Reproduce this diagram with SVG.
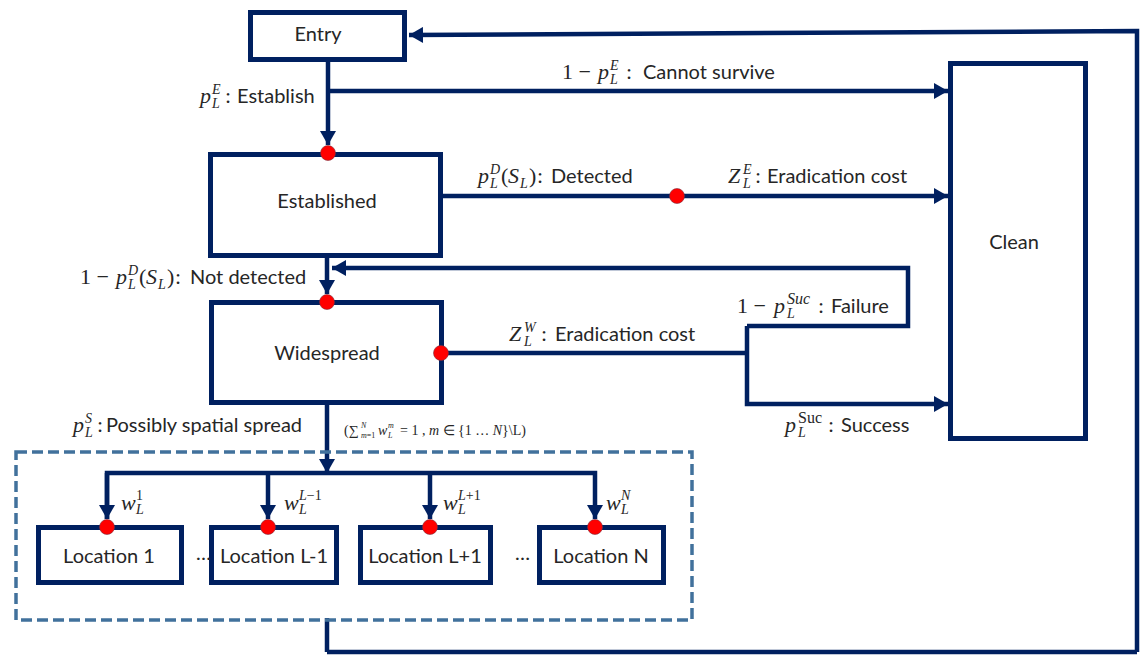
<svg xmlns="http://www.w3.org/2000/svg" width="1141" height="656" viewBox="0 0 1141 656">
<defs>
<marker id="arr" markerUnits="userSpaceOnUse" markerWidth="16" markerHeight="16" viewBox="0 0 14 16" refX="14" refY="8" orient="auto">
<path d="M0,0 L14,8 L0,16 z" fill="#002060"/>
</marker>
<style>
.box{fill:#fff;stroke:#002060;stroke-width:5}
.ln{fill:none;stroke:#002060;stroke-width:4.5}
.dash{fill:none;stroke:#41719C;stroke-width:3.5;stroke-dasharray:11 5}
.dot{fill:#FF0000;stroke:#7a3040;stroke-width:0.6}
.nt{font-family:Lato,"Liberation Sans",sans-serif;font-size:20px;fill:#262626;text-anchor:middle}
.t{font-family:Lato,"Liberation Sans",sans-serif;font-size:20px;fill:#262626}
.m{font-family:"Liberation Serif",serif;font-style:italic;font-size:22px;fill:#262626}
.mu{font-family:"Liberation Serif",serif;font-size:22px;fill:#262626}
.s{font-family:"Liberation Serif",serif;font-style:italic;font-size:14px;fill:#262626}
.su{font-family:"Liberation Serif",serif;font-size:14px;fill:#262626}
.big{font-size:16px}
.f{font-family:"Liberation Serif",serif;font-size:14px;fill:#262626}
.fx{font-family:"Liberation Serif",serif;font-size:8px;fill:#262626}
.fi{font-style:italic}
</style>
</defs>

<g id="connectors">
<path class="ln" d="M1137,652 L1137,31 L409,35" marker-end="url(#arr)"/>
<path class="ln" d="M327,652 L1137,652"/>
<path class="ln" d="M327,618 L327,652"/>
<path class="ln" d="M328,60 L328,145" marker-end="url(#arr)"/>
<path class="ln" d="M328,91 L948,91" marker-end="url(#arr)"/>
<path class="ln" d="M441,196 L948,196" marker-end="url(#arr)"/>
<path class="ln" d="M327,256 L327,294" marker-end="url(#arr)"/>
<path class="ln" d="M441,353 L747,353"/>
<path class="ln" d="M747,326 L747,404 L948,404" marker-end="url(#arr)"/>
<path class="ln" d="M747,326 L908,326 L908,268 L332,268" marker-end="url(#arr)"/>
<path class="ln" d="M327,403 L327,473" marker-end="url(#arr)"/>
<path class="ln" d="M107,519 L107,473 L595,473 L595,519" marker-end="url(#arr)"/>
<path class="ln" d="M107,473 L107,519" marker-end="url(#arr)"/>
<path class="ln" d="M268,473 L268,519" marker-end="url(#arr)"/>
<path class="ln" d="M430,473 L430,519" marker-end="url(#arr)"/>
<rect class="dash" x="16" y="452" width="676" height="168"/>
</g>

<g id="entry">
<rect class="box" x="250.5" y="12.5" width="154" height="47"/>
<text class="nt" x="318" y="41">Entry</text>
</g>

<g id="established">
<rect class="box" x="210.5" y="154.5" width="230" height="101"/>
<text class="nt" x="327" y="208">Established</text>
</g>

<g id="widespread">
<rect class="box" x="211.5" y="302.5" width="230" height="100"/>
<text class="nt" x="327" y="360">Widespread</text>
</g>

<g id="clean">
<rect class="box" x="950.5" y="63.5" width="135" height="375"/>
<text class="nt" x="1014" y="249">Clean</text>
</g>

<g id="location1">
<rect class="box" x="38.5" y="527.5" width="143" height="55"/>
<text class="nt" x="109" y="563">Location 1</text>
</g>
<g id="locationLm1">
<rect class="box" x="211.5" y="527.5" width="125" height="55"/>
<text class="nt" x="274" y="563">Location L-1</text>
</g>
<g id="locationLp1">
<rect class="box" x="360.5" y="527.5" width="130" height="55"/>
<text class="nt" x="425" y="563">Location L+1</text>
</g>
<g id="locationN">
<rect class="box" x="539.5" y="527.5" width="124" height="55"/>
<text class="nt" x="601" y="563">Location N</text>
</g>

<g id="dots">
<circle class="dot" cx="328" cy="153" r="7.5"/>
<circle class="dot" cx="677" cy="196" r="7.5"/>
<circle class="dot" cx="327" cy="302" r="7.5"/>
<circle class="dot" cx="441" cy="353" r="7.5"/>
<circle class="dot" cx="107" cy="527" r="7.5"/>
<circle class="dot" cx="268" cy="527" r="7.5"/>
<circle class="dot" cx="430" cy="527" r="7.5"/>
<circle class="dot" cx="595" cy="527" r="7.5"/>
</g>

<g id="labels">
<!-- p_L^E: Establish -->
<text class="m" x="200" y="103">p</text>
<text class="s" x="212" y="94">E</text>
<text class="s" x="212" y="108">L</text>
<text class="mu" x="225" y="103">:</text>
<text class="t" x="237" y="103">Establish</text>

<!-- 1 - p_L^E: Cannot survive -->
<text class="mu" x="562" y="79">1 −</text>
<text class="m" x="598" y="79">p</text>
<text class="s" x="610" y="70">E</text>
<text class="s" x="610" y="84">L</text>
<text class="mu" x="626" y="79">:</text>
<text class="t" x="643" y="79">Cannot survive</text>

<!-- p_L^D(S_L): Detected -->
<text class="m" x="478" y="183">p</text>
<text class="s" x="490" y="174">D</text>
<text class="s" x="490" y="188">L</text>
<text class="mu" x="501" y="183">(</text>
<text class="m" x="508" y="183">S</text>
<text class="s" x="520" y="188">L</text>
<text class="mu" x="529" y="183">)</text>
<text class="mu" x="537" y="183">:</text>
<text class="t" x="551" y="183">Detected</text>

<!-- Z_L^E: Eradication cost -->
<text class="m" x="728" y="183">Z</text>
<text class="s" x="743" y="174">E</text>
<text class="s" x="743" y="188">L</text>
<text class="mu" x="755" y="183">:</text>
<text class="t" x="767" y="183">Eradication cost</text>

<!-- 1 - p_L^D(S_L): Not detected -->
<text class="mu" x="80" y="284">1 −</text>
<text class="m" x="116" y="284">p</text>
<text class="s" x="128" y="275">D</text>
<text class="s" x="128" y="289">L</text>
<text class="mu" x="139" y="284">(</text>
<text class="m" x="146" y="284">S</text>
<text class="s" x="158" y="289">L</text>
<text class="mu" x="167" y="284">)</text>
<text class="mu" x="175" y="284">:</text>
<text class="t" x="190" y="284">Not detected</text>

<!-- Z_L^W: Eradication cost -->
<text class="m" x="509" y="341">Z</text>
<text class="s" x="524" y="332">W</text>
<text class="s" x="524" y="346">L</text>
<text class="mu" x="541" y="341">:</text>
<text class="t" x="555" y="341">Eradication cost</text>

<!-- 1 - p_L^Suc: Failure -->
<text class="mu" x="737" y="313">1 −</text>
<text class="m" x="774" y="313">p</text>
<text class="s big" x="787" y="304">Suc</text>
<text class="s" x="787" y="318">L</text>
<text class="mu" x="818" y="313">:</text>
<text class="t" x="831" y="313">Failure</text>

<!-- p_L^Suc: Success -->
<text class="m" x="785" y="432">p</text>
<text class="su big" x="798" y="423">Suc</text>
<text class="s" x="798" y="437">L</text>
<text class="mu" x="828" y="432">:</text>
<text class="t" x="841" y="432">Success</text>

<!-- p_L^S: Possibly spatial spread -->
<text class="m" x="73" y="432">p</text>
<text class="s" x="85" y="423">S</text>
<text class="s" x="85" y="437">L</text>
<text class="mu" x="97" y="432">:</text>
<text class="t" x="106" y="432">Possibly spatial spread</text>

<!-- formula (sum_{m=1}^N w_L^m = 1, m in {1...N}\L) -->
<text class="f" x="344" y="435">(∑</text>
<text class="fx fi" x="361" y="428">N</text>
<text class="fx" x="361" y="438"><tspan class="fi">m</tspan>=1</text>
<text class="f fi" x="378" y="435">w</text>
<text class="fx fi" x="388" y="428">m</text>
<text class="fx fi" x="388" y="438">L</text>
<text class="f" x="400" y="435">= 1 , <tspan class="fi">m</tspan> ∈ {1 … <tspan class="fi">N</tspan>}\L)</text>

<!-- w labels -->
<text class="m" x="121" y="510">w</text>
<text class="su" x="136" y="500">1</text>
<text class="s" x="136" y="514">L</text>
<text class="m" x="284" y="510">w</text>
<text class="su" x="299" y="500"><tspan class="fi">L</tspan>−1</text>
<text class="s" x="299" y="514">L</text>
<text class="m" x="443" y="510">w</text>
<text class="su" x="458" y="500"><tspan class="fi">L</tspan>+1</text>
<text class="s" x="458" y="514">L</text>
<text class="m" x="606" y="510">w</text>
<text class="s" x="621" y="500">N</text>
<text class="s" x="621" y="514">L</text>

<text class="t" x="196" y="560">…</text>
<text class="t" x="515" y="560">…</text>
</g>
</svg>
